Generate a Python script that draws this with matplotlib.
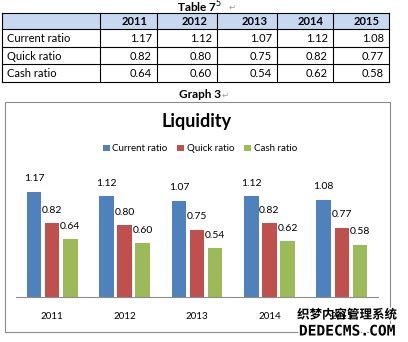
import matplotlib
matplotlib.use("Agg")
import matplotlib.pyplot as plt
import matplotlib.patches as patches
import matplotlib.patheffects as pe
import numpy as np

years = ["2011", "2012", "2013", "2014", "2015"]
current_ratio = [1.17, 1.12, 1.07, 1.12, 1.08]
quick_ratio = [0.82, 0.80, 0.75, 0.82, 0.77]
cash_ratio = [0.64, 0.60, 0.54, 0.62, 0.58]
series_names = ["Current ratio", "Quick ratio", "Cash ratio"]

blue = '#4f81bd'
red = '#c0504d'
green = '#9bbb59'
header_fill = '#c6d9f1'
font = ['Lato', 'DejaVu Sans']

W, H = 408, 342
fig = plt.figure(figsize=(W / 100, H / 100), dpi=100)
fig.patch.set_facecolor('white')

# overlay in pixel coordinates for the table and the frame
ov = fig.add_axes([0, 0, 1, 1])
ov.set_xlim(0, W)
ov.set_ylim(H, 0)
ov.axis('off')

# --- TABLE ---
ov.text(200, 7, "Table 7$^5$", ha='center', va='center', fontsize=8.5,
        fontweight='bold', family=font)
ov.text(229, 7, "\u21b5", ha='left', va='center', fontsize=6, color='#999999')

col_x = [2, 100, 157, 217, 277, 333, 389]
row_y = [13, 29, 47, 64, 82]
ov.add_patch(patches.Rectangle((col_x[0], row_y[0]), col_x[-1] - col_x[0],
                               row_y[1] - row_y[0], facecolor=header_fill,
                               edgecolor='none', zorder=1))
for y in row_y:
    ov.plot([col_x[0], col_x[-1]], [y, y], color='black', lw=0.8, zorder=2)
for x in col_x:
    ov.plot([x, x], [row_y[0], row_y[-1]], color='black', lw=0.8, zorder=2)

for j, yr in enumerate(years):
    ov.text(col_x[j + 2] - 9, (row_y[0] + row_y[1]) / 2 + 0.5, yr, ha='right',
            va='center', fontsize=8, fontweight='bold', family=font, zorder=3)

rows = [current_ratio, quick_ratio, cash_ratio]
for i, (name, vals) in enumerate(zip(series_names, rows)):
    yc = (row_y[i + 1] + row_y[i + 2]) / 2 + 0.5
    ov.text(col_x[0] + 5, yc, name, ha='left', va='center', fontsize=8,
            family=font, zorder=3)
    for j, v in enumerate(vals):
        ov.text(col_x[j + 2] - 5, yc, f"{v:.2f}", ha='right', va='center',
                fontsize=8, family=font, zorder=3)

# --- GRAPH CAPTION + FRAME ---
ov.text(200, 95, "Graph 3", ha='center', va='center', fontsize=8.5,
        fontweight='bold', family=font)
ov.text(222, 95, "\u21b5", ha='left', va='center', fontsize=6, color='#999999')
ov.add_patch(patches.Rectangle((5, 102), 385, 230, facecolor='none',
                               edgecolor='#8c8c8c', lw=0.8))
ov.text(197, 122, "Liquidity", ha='center', va='center', fontsize=13,
        fontweight='bold', family=font)

# --- CHART ---
left, right, base, top = 16, 378, 297, 171
ax = fig.add_axes([left / W, (H - base) / H, (right - left) / W, (base - top) / H])
ax.set_xlim(-0.5, len(years) - 0.5)
ax.set_ylim(0, 1.4)
ax.patch.set_alpha(0)

x = np.arange(len(years))
width = 0.2
offsets = [-0.25, 0.0, 0.25]
colors = [blue, red, green]
for vals, off, c, name in zip(rows, offsets, colors, series_names):
    bars = ax.bar(x + off, vals, width, color=c, label=name)
    for b, v in zip(bars, vals):
        ax.annotate(f"{v:.2f}", (b.get_x() + b.get_width() / 2, v),
                    xytext=(0, 6), textcoords='offset points', ha='center',
                    va='bottom', fontsize=7.5, family=font)

for s in ['top', 'right', 'left']:
    ax.spines[s].set_visible(False)
ax.spines['bottom'].set_color('#8c8c8c')
ax.spines['bottom'].set_linewidth(0.8)
ax.set_yticks([])
ax.set_xticks(x)
ax.set_xticklabels(years, fontsize=7, family=font)
ax.tick_params(axis='x', length=0, pad=11)

leg = fig.legend(loc='center', bbox_to_anchor=(200 / W, 1 - 149 / H), ncol=3,
                 frameon=False, handlelength=0.7, handleheight=0.7,
                 handletextpad=0.3, columnspacing=1.0, prop={'family': font, 'size': 7})

# watermark
wm = [pe.withStroke(linewidth=2, foreground='white')]
ov.text(347, 315, "织梦内容管理系统", ha='center', va='center', fontsize=9,
        fontweight='bold', family=['Noto Sans CJK SC', 'DejaVu Sans'],
        path_effects=wm, zorder=10)
ov.text(347, 331, "DEDECMS.COM", ha='center', va='center', fontsize=10.5,
        fontweight='bold', family='DejaVu Sans Mono', path_effects=wm, zorder=10)

fig.savefig("out.png", dpi=100, facecolor='white')
